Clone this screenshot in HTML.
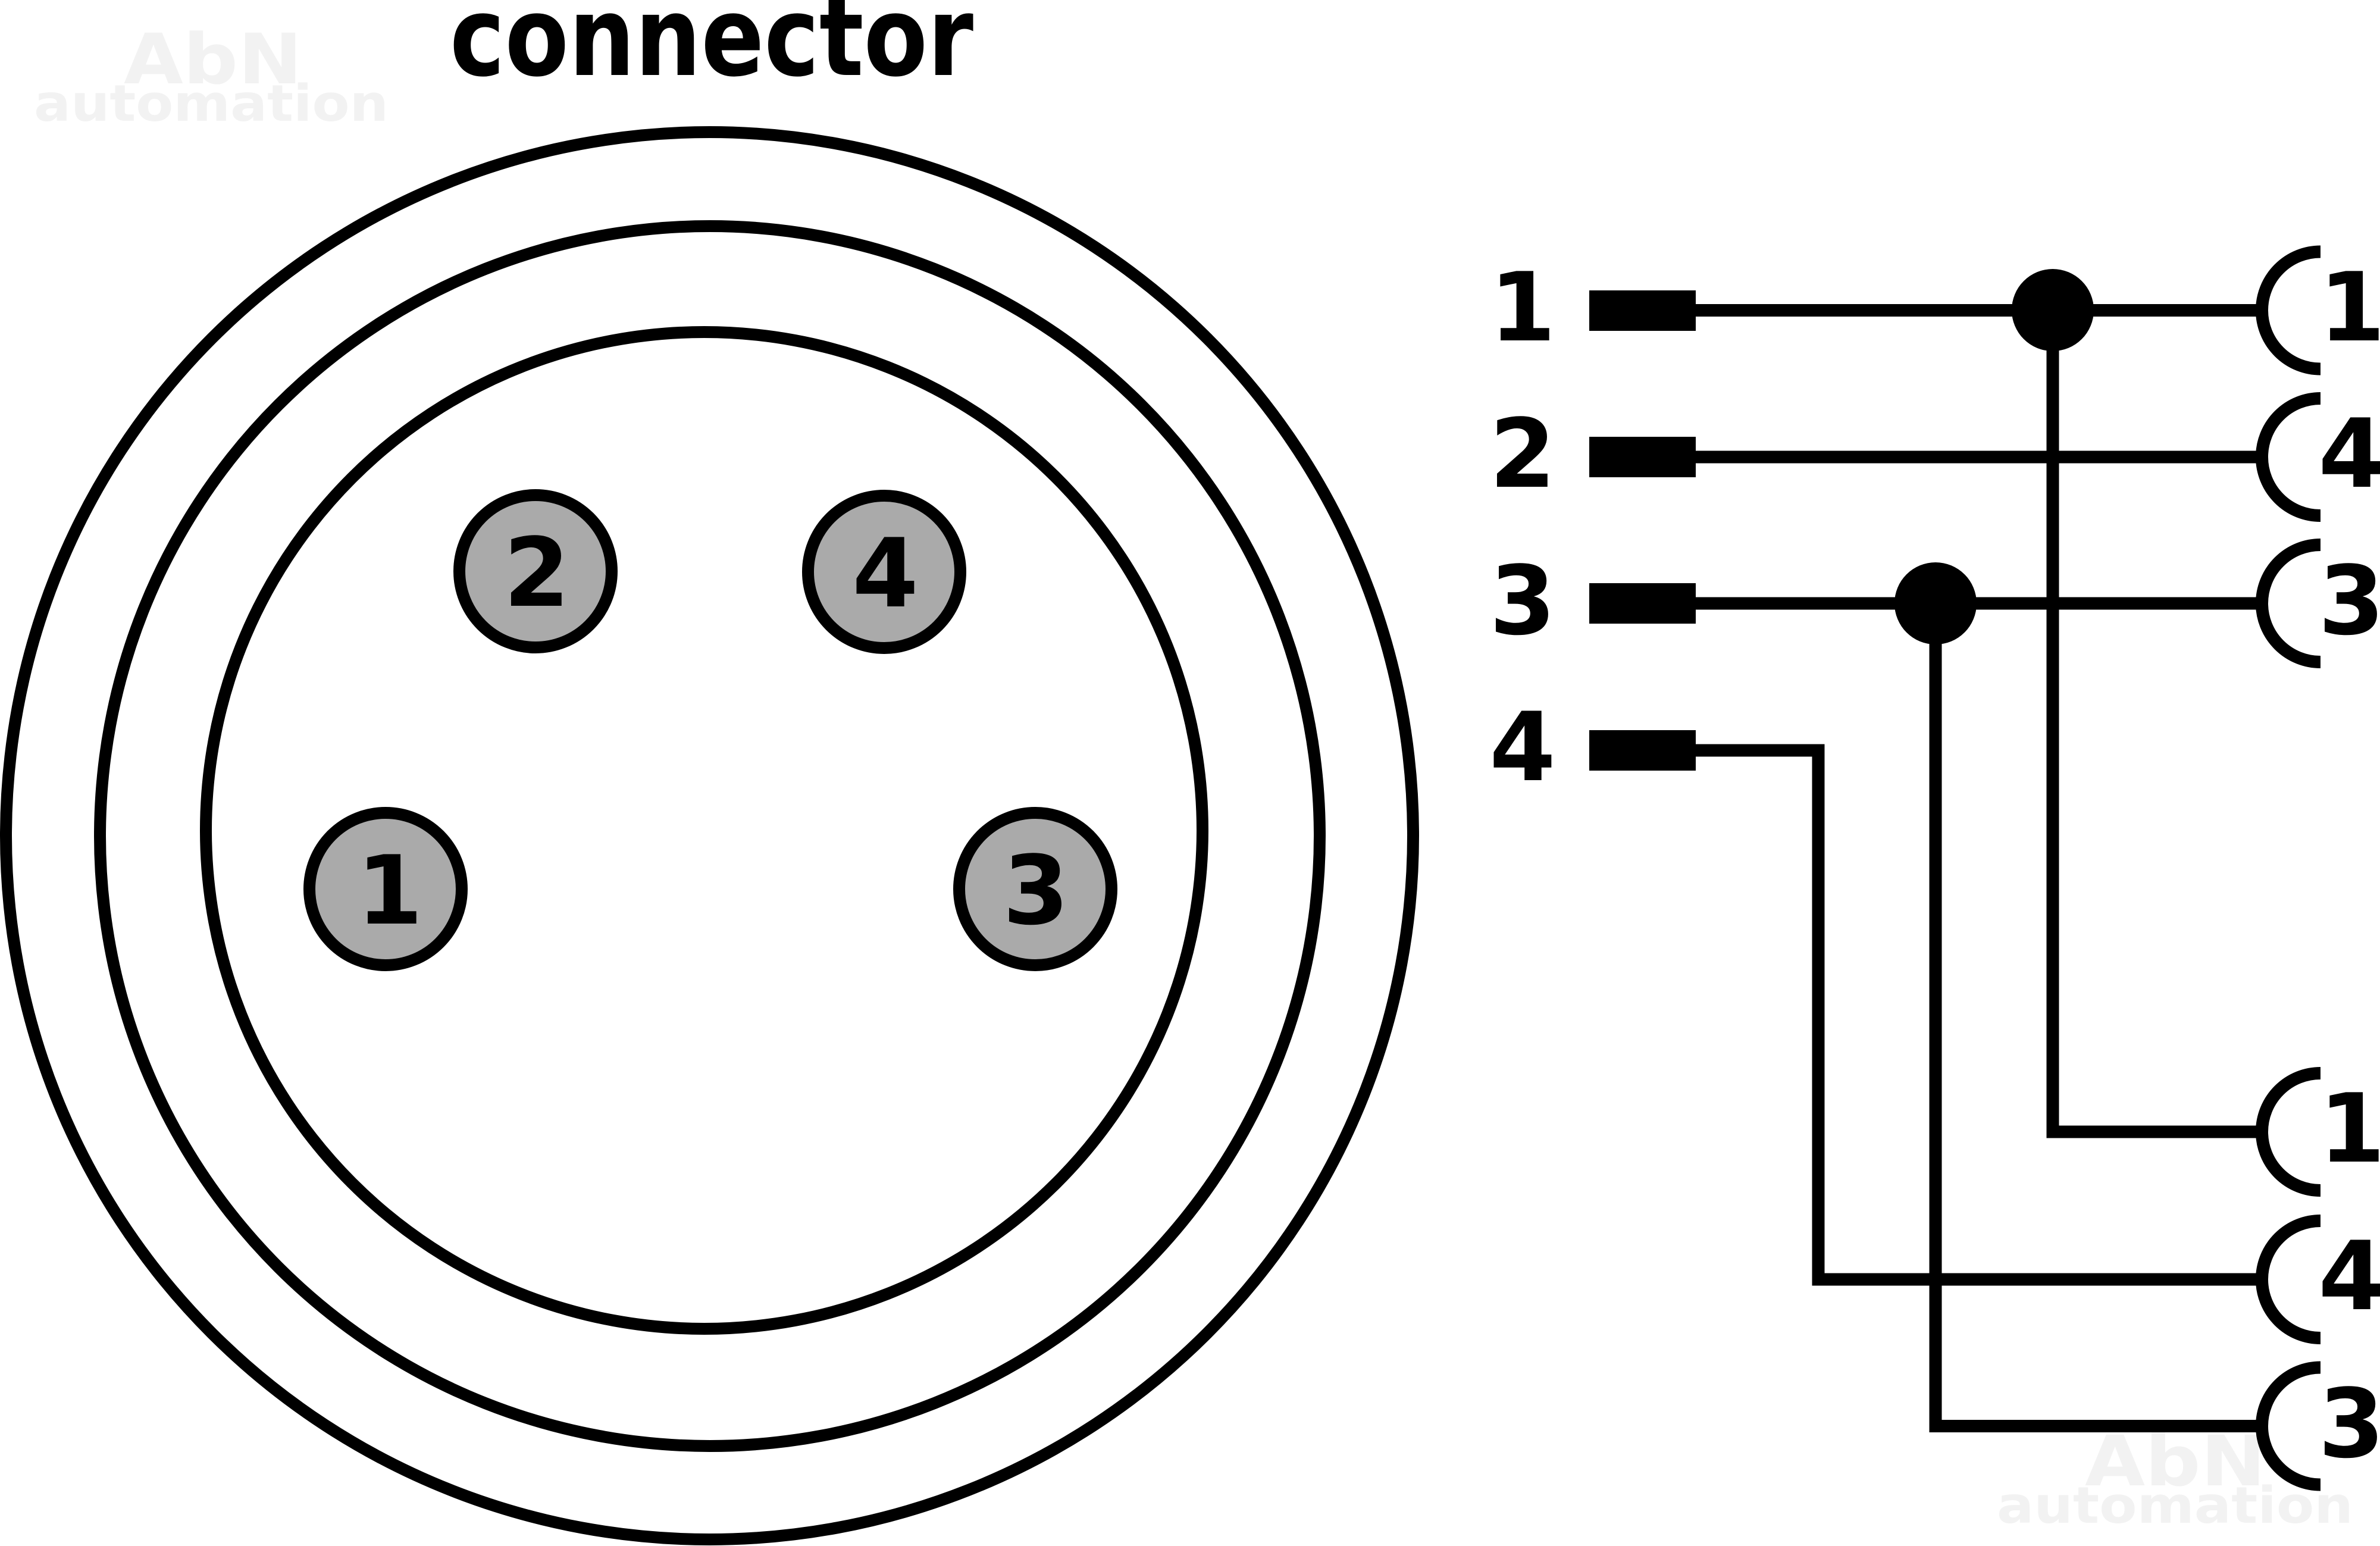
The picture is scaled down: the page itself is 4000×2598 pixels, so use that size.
<!DOCTYPE html>
<html>
<head>
<meta charset="utf-8">
<style>
  html, body { margin:0; padding:0; background:#ffffff; }
  body { width:4000px; height:2598px; overflow:hidden; }
  svg { display:block; }
  text { font-family: "DejaVu Sans", "Liberation Sans", sans-serif; font-weight: bold; }
</style>
</head>
<body>
<svg width="4000" height="2598" viewBox="0 0 4000 2598" xmlns="http://www.w3.org/2000/svg">
  <rect x="0" y="0" width="4000" height="2598" fill="#ffffff"/>

  <!-- watermarks -->
  <g fill="#f2f2f2">
    <text x="208" y="140" font-size="117" textLength="300" lengthAdjust="spacingAndGlyphs">AbN</text>
    <text x="57" y="203" font-size="85" textLength="596" lengthAdjust="spacingAndGlyphs">automation</text>
    <text x="3504" y="2496" font-size="117" textLength="304" lengthAdjust="spacingAndGlyphs">AbN</text>
    <text x="3356" y="2559" font-size="85" textLength="599" lengthAdjust="spacingAndGlyphs">automation</text>
  </g>

  <!-- title -->
  <text x="756" y="126" font-size="185" fill="#000" textLength="880" lengthAdjust="spacingAndGlyphs">connector</text>

  <!-- connector face circles -->
  <g fill="none" stroke="#000" stroke-width="20">
    <circle cx="1192.5" cy="1404.5" r="1182.5"/>
    <circle cx="1193" cy="1405" r="1025"/>
    <circle cx="1183.5" cy="1395.5" r="837.5"/>
  </g>

  <!-- pins -->
  <g fill="#aaaaaa" stroke="#000" stroke-width="20">
    <circle cx="900" cy="960" r="128"/>
    <circle cx="1486" cy="961" r="128"/>
    <circle cx="648" cy="1494" r="128"/>
    <circle cx="1740" cy="1494" r="128"/>
  </g>
  <g fill="#000" font-size="160" text-anchor="middle">
    <text x="902" y="1018">2</text>
    <text x="1488" y="1019">4</text>
    <text x="655" y="1552">1</text>
    <text x="1741" y="1552">3</text>
  </g>

  <!-- left labels -->
  <g fill="#000" font-size="160" text-anchor="middle">
    <text x="2559" y="572">1</text>
    <text x="2559" y="818">2</text>
    <text x="2559" y="1065">3</text>
    <text x="2559" y="1311">4</text>
  </g>

  <!-- plug rectangles -->
  <g fill="#000">
    <rect x="2671" y="488" width="179" height="68"/>
    <rect x="2671" y="734" width="179" height="68"/>
    <rect x="2671" y="980" width="179" height="68"/>
    <rect x="2671" y="1227" width="179" height="68"/>
  </g>

  <!-- wires -->
  <g fill="none" stroke="#000" stroke-width="21" stroke-linejoin="miter" stroke-linecap="butt">
    <line x1="2845" y1="521.5" x2="3802" y2="521.5"/>
    <line x1="2845" y1="768" x2="3802" y2="768"/>
    <line x1="2845" y1="1014" x2="3802" y2="1014"/>
    <polyline points="2845,1261 3056,1261 3056,2150 3802,2150"/>
    <polyline points="3450,521 3450,1902 3802,1902"/>
    <polyline points="3253,1014 3253,2396.5 3802,2396.5"/>
  </g>

  <!-- junction dots -->
  <g fill="#000">
    <circle cx="3450" cy="521" r="69"/>
    <circle cx="3253" cy="1014" r="69"/>
  </g>

  <!-- socket arcs -->
  <g fill="none" stroke="#000" stroke-width="21" stroke-linecap="butt">
    <path d="M 3900 423 A 98.5 98.5 0 0 0 3900 620"/>
    <path d="M 3900 669.5 A 98.5 98.5 0 0 0 3900 866.5"/>
    <path d="M 3900 915.5 A 98.5 98.5 0 0 0 3900 1112.5"/>
    <path d="M 3900 1803.5 A 98.5 98.5 0 0 0 3900 2000.5"/>
    <path d="M 3900 2051.5 A 98.5 98.5 0 0 0 3900 2248.5"/>
    <path d="M 3900 2298 A 98.5 98.5 0 0 0 3900 2495"/>
  </g>

  <!-- right labels -->
  <g fill="#000" font-size="160" text-anchor="middle">
    <text x="3953" y="572">1</text>
    <text x="3952" y="818">4</text>
    <text x="3952" y="1065">3</text>
    <text x="3953" y="1952">1</text>
    <text x="3952" y="2200">4</text>
    <text x="3952" y="2448">3</text>
  </g>
</svg>
</body>
</html>
